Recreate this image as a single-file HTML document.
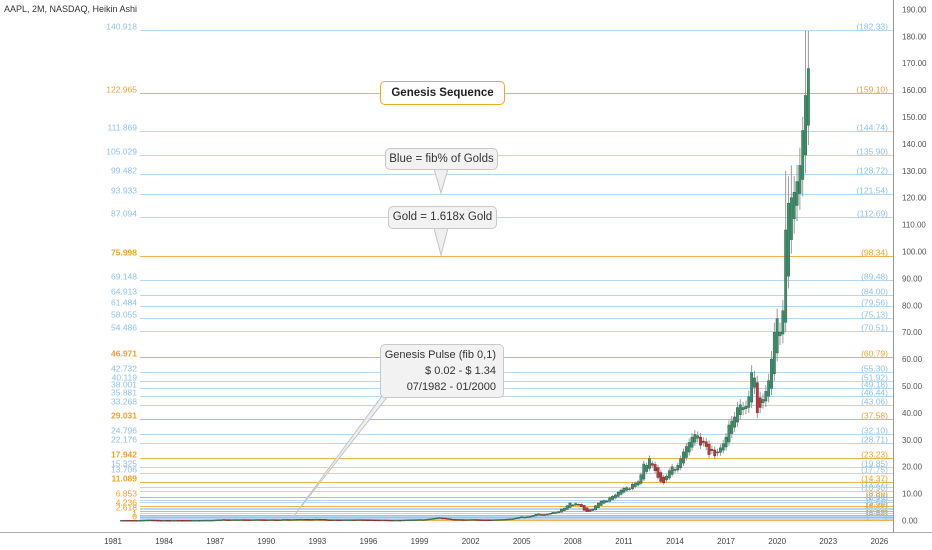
<!DOCTYPE html>
<html><head><meta charset="utf-8">
<style>
body{margin:0;background:#fff;width:932px;height:550px;overflow:hidden;font-family:"Liberation Sans",sans-serif;}
svg{display:block}
.box{position:absolute;background:#f2f2f2;border:1px solid #c8c8c8;border-radius:5px;font-size:11.5px;color:#333;text-align:center;box-sizing:border-box;}
</style></head><body>
<svg id="chart" width="932" height="550" xmlns="http://www.w3.org/2000/svg">
<text x="4" y="12" font-size="9" fill="#333" font-family="Liberation Sans, sans-serif">AAPL, 2M, NASDAQ, Heikin Ashi</text>
<g id="grid"></g><g id="levels"></g><g id="candles"></g><g id="axes"></g><g id="notes"></g>
</svg>
<script>
// fib level values (left labels) and kind
const levelValues=[0,0.382,0.618,1,1.236,1.382,1.618,2.0,2.236,2.618,3.236,3.618,4.236,5.236,5.854,6.853,8.471,9.471,11.089,13.706,15.325,17.942,22.176,24.796,29.031,33.268,35.881,38.001,40.119,42.732,46.971,54.486,58.055,61.484,64.913,69.148,75.998,87.094,93.933,99.482,105.029,111.869,122.965,140.918];
const levelKinds=["g","b","b","g","b","b","g","b","b","g","b","b","g","b","b","g","b","b","g","b","b","g","b","b","g","b","b","b","b","b","g","b","b","b","b","b","g","b","b","b","b","b","g","b"];
const leftShown=[0,1,2.618,4.236,6.853,11.089,13.706,15.325,17.942,22.176,24.796,29.031,33.268,35.881,38.001,40.119,42.732,46.971,54.486,58.055,61.484,64.913,69.148,75.998,87.094,93.933,99.482,105.029,111.869,122.965,140.918];
const priceTicks=[0,10,20,30,40,50,60,70,80,90,100,110,120,130,140,150,160,170,180,190];
const yearTicks=[1981,1984,1987,1990,1993,1996,1999,2002,2005,2008,2011,2014,2017,2020,2023,2026];
const startYear=1981.5;
// Heikin Ashi closes, one per 2-month bar
const haCloses=[
0.12,0.10,0.09,
0.08,0.07,0.06,0.08,0.12,0.15,
0.18,0.20,0.16,0.10,0.09,0.10,
0.11,0.10,0.09,0.11,0.11,0.10,
0.10,0.08,0.06,0.07,0.08,0.09,
0.11,0.12,0.14,0.15,0.14,0.15,
0.20,0.28,0.30,0.40,0.33,0.30,
0.32,0.35,0.34,0.36,0.33,0.33,
0.30,0.32,0.35,0.38,0.34,0.30,
0.30,0.32,0.34,0.28,0.24,0.30,
0.40,0.42,0.35,0.38,0.42,0.45,
0.50,0.48,0.45,0.40,0.42,0.50,
0.52,0.45,0.35,0.22,0.22,0.25,
0.28,0.25,0.22,0.28,0.30,0.32,
0.30,0.28,0.33,0.35,0.30,0.26,
0.23,0.20,0.19,0.20,0.19,0.20,
0.16,0.14,0.13,0.15,0.17,0.13,
0.18,0.22,0.25,0.28,0.30,0.33,
0.38,0.35,0.40,0.55,0.65,0.80,
0.95,1.10,0.90,0.60,0.45,0.30,
0.35,0.40,0.35,0.30,0.30,0.35,
0.38,0.40,0.32,0.26,0.25,0.25,
0.24,0.25,0.30,0.35,0.37,0.40,
0.45,0.55,0.60,0.70,0.95,1.20,
1.4,1.3,1.4,1.6,1.9,2.3,
2.5,2.2,2.1,2.4,2.7,3.0,
3.0,3.3,4.2,4.6,5.5,6.5,
5.8,6.3,6.0,5.2,3.8,3.3,
3.4,4.2,5.5,6.5,7.2,7.4,
7.3,8.5,9.0,9.5,10.5,11.3,
12.0,12.2,11.8,13.5,13.8,14.4,
17.0,21.0,20.5,23.0,20.5,18.5,
16.0,14.5,14.0,16.5,18.5,20.0,
19.0,20.5,23.0,25.5,27.5,29.0,
31.0,32.0,31.5,28.0,29.0,27.5,
24.5,26.0,24.0,25.5,27.0,28.5,
31.0,35.5,37.0,38.5,42.0,43.0,
42.0,42.5,46.0,55.0,53.0,40.0,
42.0,45.0,48.0,52.0,60.0,70.0,
75.0,70.0,78.0,108.0,118.0,120.0,
122.0,126.0,132.0,145.0,158.0,168.0];
const haHighs={"2020.5":130,"2020.67":128,"2020.83":132,"2021.5":150,"2021.67":182,"2021.83":182};

const NS="http://www.w3.org/2000/svg";
const PLOT_L=140,PLOT_R=893;
function yScale(v){return 520.5-v*2.69;}
function xScale(yr){return 113+(yr-1981)*17.03;}
function toRight(L){return 0.02+L*1.2937;}
function mk(tag,attrs,parent){const e=document.createElementNS(NS,tag);for(const k in attrs)e.setAttribute(k,attrs[k]);parent.appendChild(e);return e;}

const gLev=document.getElementById('levels');
levelValues.forEach((L,i)=>{
  const gold=levelKinds[i]==="g";
  const y=Math.round(yScale(toRight(L)))+0.5;
  const ln=mk('line',{x1:PLOT_L,x2:PLOT_R,y1:y,y2:y,stroke:gold?'#f6b24a':'#b6d8f2','stroke-width':1},gLev);
  
  
  const rt=mk('text',{x:888,y:y-1,'font-size':8.5,'text-anchor':'end',fill:gold?'#f3a02a':'#8fc1ea'},gLev);
  rt.textContent='('+toRight(L).toFixed(2)+')';
  
  
  if(leftShown.includes(L)){
    const lt=mk('text',{x:137,y:y-1,'font-size':8.5,'text-anchor':'end',fill:gold?'#f3a02a':'#8fc1ea','font-weight':(gold&&L>=11&&L<100)?'bold':'normal'},gLev);
    lt.textContent=String(L);
    
    
  }
});

const gC=document.getElementById('candles');
let prevO=haCloses[0],prevC=haCloses[0];
haCloses.forEach((c,i)=>{
  const o=(prevO+prevC)/2;
  const yr=startYear+i/6;
  const x=xScale(yr);
  const key=(Math.round(yr*100)/100).toString();
  const hi=haHighs[key]!==undefined?Math.max(haHighs[key],o,c):Math.max(o,c)*1.05;
  const lo=Math.min(o,c)*0.95;
  const wk=mk('line',{x1:x,x2:x,y1:yScale(hi),y2:yScale(lo),stroke:'#9a9a9a','stroke-width':1},gC);
  
  
  const up=c>=o;
  const top=yScale(Math.max(o,c)),bot=yScale(Math.min(o,c));
  const b=mk('rect',{x:x-1.2,y:top,width:2.4,height:Math.max(1,bot-top),fill:up?'#3f8f6c':'#b23b3b',stroke:up?'#24573f':'#6e2020','stroke-width':0.4},gC);
  
  
  prevO=o;prevC=c;
});

const gA=document.getElementById('axes');
mk('line',{x1:893.5,x2:893.5,y1:0,y2:532,stroke:'#999','stroke-width':1},gA);
mk('line',{x1:0,x2:932,y1:532.5,y2:532.5,stroke:'#aaa','stroke-width':1},gA);
priceTicks.forEach(v=>{
  const t=mk('text',{x:902,y:yScale(v)+3,'font-size':8,fill:'#555'},gA);
  t.textContent=v.toFixed(2);
  
  
});
yearTicks.forEach(yr=>{
  const t=mk('text',{x:xScale(yr),y:544,'font-size':8,fill:'#444','text-anchor':'middle'},gA);
  t.textContent=yr;
  
  
});

const gN=document.getElementById('notes');
function poly(pts,name){const p=mk('polygon',{points:pts,fill:'#efefef',stroke:'#c4c4c4','stroke-width':1},gN);}
poly('434,169 448,169 441,193','blue-note-pointer');
poly('434,228 448,228 441,255','gold-note-pointer');
poly('382,396 388,396 293,517','pulse-note-pointer');
</script>
<div class="box" style="left:380px;top:81px;width:125px;height:24px;background:#fff;border-color:#f5a623;font-weight:bold;font-size:11.5px;line-height:22px;color:#222;">Genesis Sequence</div>
<div class="box" style="left:385px;top:148px;width:113px;height:22px;line-height:20px;">Blue = fib% of Golds</div>
<div class="box" style="left:388px;top:206px;width:109px;height:23px;line-height:21px;">Gold = 1.618x Gold</div>
<div class="box" style="left:380px;top:344px;width:124px;height:54px;font-size:11px;line-height:16px;padding-top:2px;text-align:right;padding-right:7px;">Genesis Pulse (fib 0,1)<br>$ 0.02 - $ 1.34<br>07/1982 - 01/2000</div>
</body></html>
